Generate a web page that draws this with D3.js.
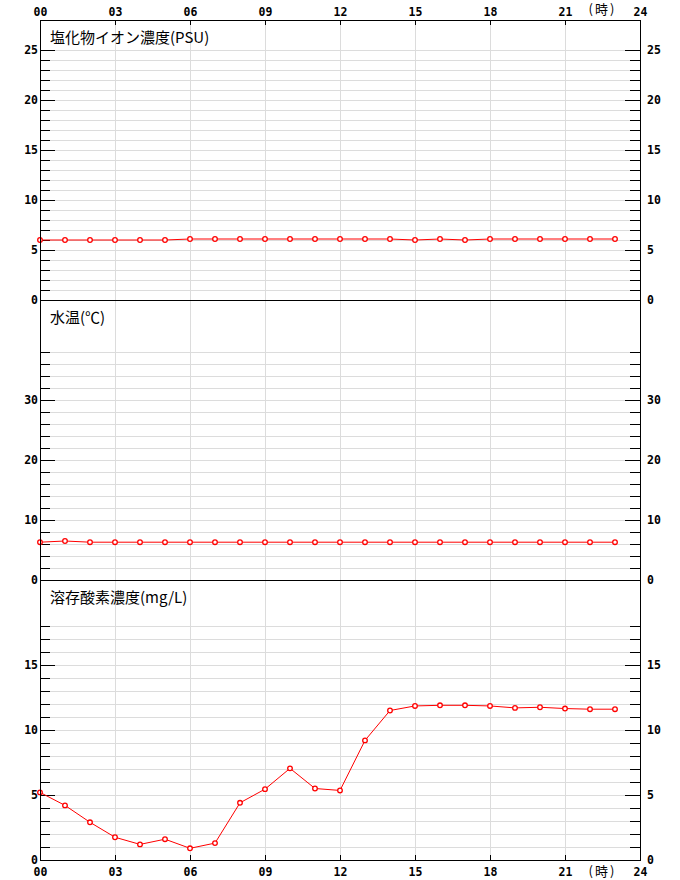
<!DOCTYPE html>
<html>
<head>
<meta charset="utf-8">
<script src="https://cdn.jsdelivr.net/npm/d3@7"></script>
<style>
  html, body { margin: 0; padding: 0; background: #fff; }
  svg { display: block; }
  .num { font-family: "DejaVu Sans Mono", "Liberation Mono", monospace; font-weight: bold; font-size: 11.5px; fill: #000; }
  .ttl { font-family: "Noto Sans CJK JP", sans-serif; font-size: 15px; fill: #000; }
</style>
</head>
<body>
<svg id="chart" width="680" height="880"></svg>
<script>
// ---- data ----
const hours = [0,1,2,3,4,5,6,7,8,9,10,11,12,13,14,15,16,17,18,19,20,21,22,23];
const hourTicks = [0,3,6,9,12,15,18,21,24];
const hourLabels = ["00","03","06","09","12","15","18","21","24"];
const hourUnit = "(時)";

const titles = ["塩化物イオン濃度(PSU)", "水温(℃)", "溶存酸素濃度(mg/L)"];

const chloride = [6.0,6.0,6.0,6.0,6.0,6.0,6.1,6.1,6.1,6.1,6.1,6.1,6.1,6.1,6.1,6.0,6.1,6.0,6.1,6.1,6.1,6.1,6.1,6.1];
const waterTemp = [6.3,6.5,6.3,6.3,6.3,6.3,6.3,6.3,6.3,6.3,6.3,6.3,6.3,6.3,6.3,6.3,6.3,6.3,6.3,6.3,6.3,6.3,6.3,6.3];
const oxygen = [5.2,4.2,2.9,1.75,1.2,1.6,0.9,1.3,4.4,5.45,7.05,5.5,5.35,9.2,11.5,11.85,11.9,11.9,11.85,11.7,11.75,11.65,11.6,11.6];

const chlorideMinor = [1,2,3,4,6,7,8,9,11,12,13,14,16,17,18,19,21,22,23,24];
const chlorideMajor = [5,10,15,20,25];
const chlorideLabels = [0,5,10,15,20,25];
const tempMinor = [2,4,6,8,12,14,16,18,22,24,26,28,32,34,36,38];
const tempMajor = [10,20,30];
const tempLabels = [0,10,20,30];
const oxygenMinor = [1,2,3,4,6,7,8,9,11,12,13,14,16,17,18];
const oxygenMajor = [5,10,15];
const oxygenLabels = [0,5,10,15];

// ---- layout ----
const L = 40, R = 640, T = 20, B = 860;
const panels = [
  { title: titles[0], values: chloride, top: 20, bottom: 300, unitPx: 10, minor: chlorideMinor, major: chlorideMajor, labels: chlorideLabels },
  { title: titles[1], values: waterTemp, top: 300, bottom: 580, unitPx: 6, minor: tempMinor, major: tempMajor, labels: tempLabels },
  { title: titles[2], values: oxygen, top: 580, bottom: 860, unitPx: 13, minor: oxygenMinor, major: oxygenMajor, labels: oxygenLabels }
];

const svg = d3.select("#chart");
const x = d3.scaleLinear().domain([0, 24]).range([L, R]);
const grid = "#dcdcdc";

function styleText(g) {
  g.selectAll("text").attr("class", "num").attr("font-family", null).attr("font-size", null).attr("fill", null);
}

// vertical grid lines
svg.append("g")
  .attr("transform", `translate(0,${T})`)
  .call(d3.axisBottom(x).tickValues(hourTicks.slice(1, -1)).tickSize(B - T).tickFormat(""))
  .call(g => g.select(".domain").remove())
  .call(g => g.selectAll("line").attr("stroke", grid));

panels.forEach(p => {
  const y = d3.scaleLinear().domain([0, (p.bottom - p.top) / p.unitPx]).range([p.bottom, p.top]);
  const allTicks = p.minor.concat(p.major);

  // horizontal grid
  svg.append("g")
    .attr("transform", `translate(${L},0)`)
    .call(d3.axisRight(y).tickValues(allTicks).tickSize(R - L).tickFormat(""))
    .call(g => g.select(".domain").remove())
    .call(g => g.selectAll("line").attr("stroke", grid));

  // left ticks
  svg.append("g")
    .attr("transform", `translate(${L},0)`)
    .call(d3.axisLeft(y).tickValues(p.minor).tickSize(-10).tickFormat(""))
    .call(g => g.select(".domain").remove())
    .call(g => g.selectAll("line").attr("stroke", "#000"));
  svg.append("g")
    .attr("transform", `translate(${L},0)`)
    .call(d3.axisLeft(y).tickValues(p.major).tickSize(-15).tickFormat(""))
    .call(g => g.select(".domain").remove())
    .call(g => g.selectAll("line").attr("stroke", "#000"));
  svg.append("g")
    .attr("transform", `translate(${L},0)`)
    .call(d3.axisLeft(y).tickValues(p.labels).tickSize(0).tickPadding(2))
    .call(g => g.select(".domain").remove())
    .call(g => g.selectAll("line").remove())
    .call(styleText);

  // right ticks
  svg.append("g")
    .attr("transform", `translate(${R},0)`)
    .call(d3.axisRight(y).tickValues(p.minor).tickSize(-10).tickFormat(""))
    .call(g => g.select(".domain").remove())
    .call(g => g.selectAll("line").attr("stroke", "#000"));
  svg.append("g")
    .attr("transform", `translate(${R},0)`)
    .call(d3.axisRight(y).tickValues(p.major).tickSize(-15).tickFormat(""))
    .call(g => g.select(".domain").remove())
    .call(g => g.selectAll("line").attr("stroke", "#000"));
  svg.append("g")
    .attr("transform", `translate(${R},0)`)
    .call(d3.axisRight(y).tickValues(p.labels).tickSize(0).tickPadding(7))
    .call(g => g.select(".domain").remove())
    .call(g => g.selectAll("line").remove())
    .call(styleText);

  // panel separator / bottom line
  svg.append("line")
    .attr("x1", L).attr("x2", R)
    .attr("y1", p.bottom + 0.5).attr("y2", p.bottom + 0.5)
    .attr("stroke", "#000");

  // title
  svg.append("text").attr("class", "ttl")
    .attr("x", L + 10).attr("y", p.top + 23)
    .text(p.title);

  // data line + markers
  const line = d3.line().x((d, i) => x(hours[i])).y(d => y(d));
  svg.append("path")
    .datum(p.values)
    .attr("d", line)
    .attr("fill", "none")
    .attr("stroke", "#ff0000")
    .attr("stroke-width", 1);
  svg.append("g").selectAll("circle")
    .data(p.values)
    .join("circle")
    .attr("cx", (d, i) => x(hours[i]))
    .attr("cy", d => y(d))
    .attr("r", 2.3)
    .attr("fill", "#fff")
    .attr("stroke", "#ff0000")
    .attr("stroke-width", 1.3);
});

// outer frame
svg.append("rect")
  .attr("x", L + 0.5).attr("y", T + 0.5)
  .attr("width", R - L).attr("height", B - T)
  .attr("fill", "none").attr("stroke", "#000");

// top axis
svg.append("g")
  .attr("transform", `translate(0,${T})`)
  .call(d3.axisTop(x).tickValues(hourTicks).tickSize(-5).tickPadding(4)
    .tickFormat((d, i) => hourLabels[i]))
  .call(g => g.select(".domain").remove())
  .call(g => g.selectAll("line").attr("stroke", "#000"))
  .call(styleText);

// bottom axis
svg.append("g")
  .attr("transform", `translate(0,${B})`)
  .call(d3.axisBottom(x).tickValues(hourTicks).tickSize(-5).tickPadding(8)
    .tickFormat((d, i) => hourLabels[i]))
  .call(g => g.select(".domain").remove())
  .call(g => g.selectAll("line").attr("stroke", "#000"))
  .call(styleText);

// unit labels
[T - 6, B + 16].forEach(yy => {
  svg.append("text")
    .attr("x", x(22.5)).attr("y", yy)
    .attr("text-anchor", "middle")
    .attr("font-family", "Noto Sans CJK JP, sans-serif")
    .attr("font-size", 13)
    .attr("letter-spacing", 2)
    .text(hourUnit);
});
</script>
</body>
</html>
